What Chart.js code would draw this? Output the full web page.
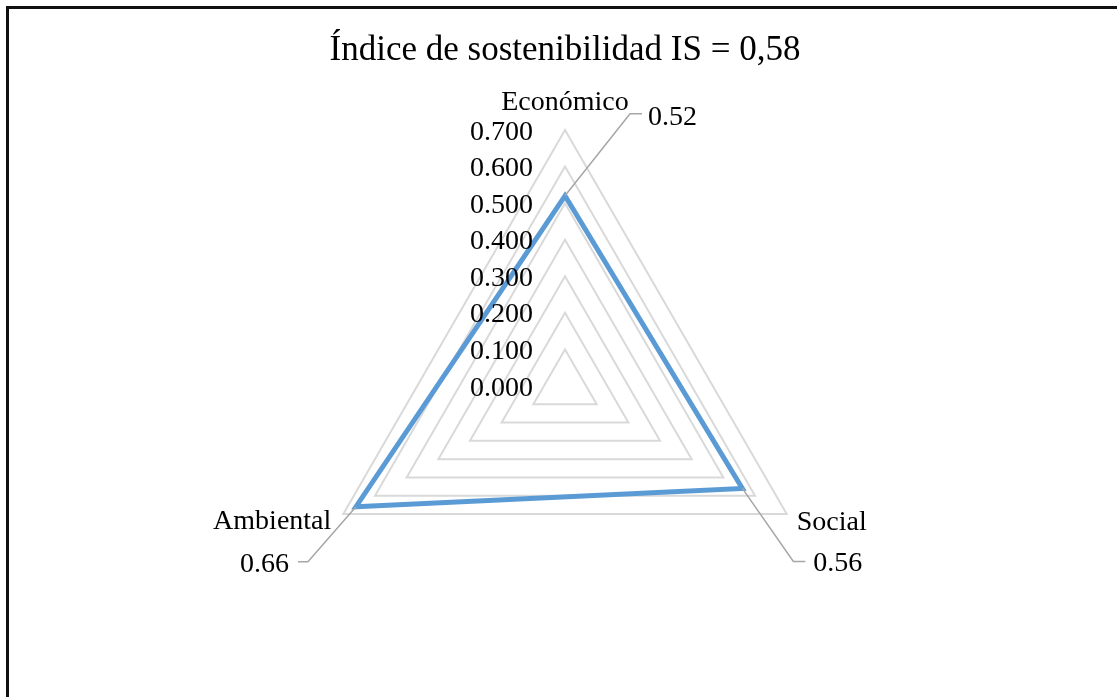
<!DOCTYPE html>
<html><head><meta charset="utf-8">
<script src="https://cdn.jsdelivr.net/npm/chart.js@4"></script>
<style>
html,body{margin:0;padding:0;background:#fff;overflow:hidden}
#wrap{position:relative;width:1117px;height:697px;overflow:hidden}
canvas{position:absolute;left:0;top:0}
#frame{position:absolute;left:6px;top:6px;width:1200px;height:800px;border-left:3px solid #111;border-top:3px solid #111;pointer-events:none}
</style></head><body>
<div id="wrap"><canvas id="c" width="1117" height="697"></canvas><div id="frame"></div></div>
<script>
const chartTitle = 'Índice de sostenibilidad IS = 0,58';
const categories = ['Económico', 'Social', 'Ambiental'];
const values = [0.52, 0.56, 0.66];
const tickLabels = ['0.000', '0.100', '0.200', '0.300', '0.400', '0.500', '0.600', '0.700'];

const serif = '"Liberation Serif", "Times New Roman", serif';

// placement of category labels relative to the outer vertex
const pointLabelPlace = [
  {align: 'center', dx: 0, dy: -20},
  {align: 'left', dx: 10, dy: 16},
  {align: 'right', dx: -12, dy: 15}
];
// leader line elbows / label offsets relative to the data point
const dataLabelPlace = [
  {ex: 65, ey: -82, hx: 12, align: 'left', tx: 6, ty: 11.5},
  {ex: 51, ey: 73, hx: 12, align: 'left', tx: 8, ty: 10},
  {ex: -48, ey: 55, hx: -10, align: 'right', tx: -9, ty: 10}
];

const overlay = {
  id: 'overlay',
  afterDatasetsDraw(chart) {
    const s = chart.scales.r;
    const ctx = chart.ctx;
    ctx.save();
    ctx.fillStyle = '#000';
    ctx.font = '28px ' + serif;
    ctx.textBaseline = 'alphabetic';
    // tick labels
    ctx.textAlign = 'right';
    s.ticks.forEach((t, i) => {
      const d = s.getDistanceFromCenterForValue(t.value);
      const lbl = tickLabels[i] !== undefined ? tickLabels[i] : t.value.toFixed(3);
      ctx.fillText(lbl, s.xCenter - 32, s.yCenter - d + 9.5);
    });
    // category labels
    categories.forEach((c, i) => {
      const p = s.getPointPosition(i, s.drawingArea);
      const pl = pointLabelPlace[i];
      ctx.textAlign = pl.align;
      ctx.fillText(c, p.x + pl.dx, p.y + pl.dy);
    });
    // data labels with leader lines
    values.forEach((v, i) => {
      const p = s.getPointPosition(i, s.getDistanceFromCenterForValue(v));
      const dl = dataLabelPlace[i];
      const ex = p.x + dl.ex, ey = p.y + dl.ey;
      ctx.strokeStyle = '#a6a6a6';
      ctx.lineWidth = 1.5;
      ctx.beginPath();
      ctx.moveTo(p.x, p.y);
      ctx.lineTo(ex, ey);
      ctx.lineTo(ex + dl.hx, ey);
      ctx.stroke();
      ctx.textAlign = dl.align;
      ctx.fillText(v.toFixed(2), ex + dl.hx + dl.tx, ey + dl.ty);
    });
    ctx.restore();
  }
};

new Chart(document.getElementById('c'), {
  type: 'radar',
  data: {
    labels: categories,
    datasets: [{
      data: values,
      borderColor: '#5b9bd5',
      backgroundColor: 'rgba(0,0,0,0)',
      borderWidth: 5,
      fill: false,
      pointRadius: 0,
      pointHoverRadius: 0,
      tension: 0
    }]
  },
  options: {
    responsive: false,
    animation: false,
    events: [],
    layout: {padding: {left: 13, right: 0, top: 0, bottom: 54}},
    plugins: {
      legend: {display: false},
      tooltip: {enabled: false},
      title: {
        display: true,
        text: chartTitle,
        color: '#000',
        font: {family: serif, size: 35, weight: 'normal', lineHeight: 1.2},
        padding: {top: 30, bottom: 58}
      }
    },
    scales: {
      r: {
        min: 0,
        max: 0.7,
        startAngle: 0,
        ticks: {display: false, stepSize: 0.1, callback: (v, i) => tickLabels[i]},
        grid: {color: '#d9d9d9', lineWidth: 2, circular: false},
        angleLines: {display: false},
        pointLabels: {display: false}
      }
    }
  },
  plugins: [overlay]
});
</script>
</body></html>
